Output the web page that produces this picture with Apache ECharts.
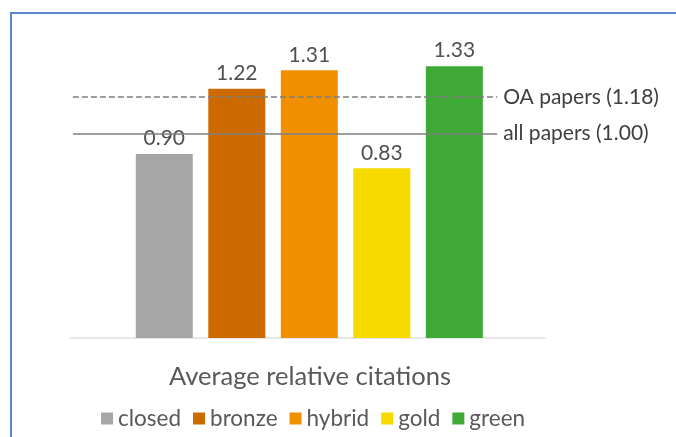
<!DOCTYPE html>
<html>
<head>
<meta charset="utf-8">
<script src="https://cdn.jsdelivr.net/npm/echarts@6/dist/echarts.min.js"></script>
<style>
html,body{margin:0;padding:0;background:#fff;}
#frame{position:absolute;left:10px;top:12px;width:680px;height:440px;border-left:2px solid #5a87cc;border-top:2px solid #5a87cc;box-sizing:border-box;}
#chart{position:absolute;left:0;top:0;width:676px;height:437px;}
</style>
</head>
<body>
<div id="frame"></div>
<div id="chart"></div>
<script>
const categories = ['closed', 'bronze', 'hybrid', 'gold', 'green'];
const values = [0.90, 1.22, 1.31, 0.83, 1.33];
const colors = ['#a6a6a6', '#cc6a00', '#f08f00', '#f7da00', '#3eaa35'];
const refLines = [
  { name: 'OA papers (1.18)', value: 1.18, type: 'dashed' },
  { name: 'all papers (1.00)', value: 1.00, type: 'solid' }
];
const title = 'Average relative citations';

const FONT = 'Lato';
const series = categories.map((c, i) => ({
  name: c,
  type: 'bar',
  barWidth: 57,
  barGap: '-100%',
  z: 3,
  itemStyle: { color: colors[i] },
  label: {
    show: true,
    position: 'top',
    distance: 5,
    color: '#505050',
    fontFamily: FONT,
    fontSize: 21,
    backgroundColor: '#fff',
    padding: [0, 4],
    formatter: p => p.value[1].toFixed(2)
  },
  data: [[i, values[i]]]
}));

series.push({
  type: 'line',
  data: [],
  z: 1,
  silent: true,
  markLine: {
    symbol: 'none',
    silent: true,
    animation: false,
    data: refLines.map(r => [
      { coord: [-1.26, r.value], lineStyle: { type: r.type, color: '#7f7f7f', width: 1.5 },
        label: { formatter: r.name } },
      { coord: [4.59, r.value] }
    ]),
    label: {
      show: true,
      position: 'end',
      distance: 6,
      color: '#404040',
      fontFamily: FONT,
      fontSize: 21
    }
  }
});

const chart = echarts.init(document.getElementById('chart'), null, { renderer: 'canvas' });
chart.setOption({
  animation: false,
  backgroundColor: 'transparent',
  title: {
    text: title,
    left: 305,
    top: 359,
    textAlign: 'center',
    textStyle: { color: '#595959', fontFamily: FONT, fontSize: 25.5, fontWeight: 'normal' }
  },
  legend: {
    data: categories,
    left: 96,
    top: 402,
    icon: 'rect',
    itemWidth: 12,
    itemHeight: 12,
    itemGap: 12,
    textStyle: { color: '#595959', fontFamily: FONT, fontSize: 22.5, padding: [0, 0, 0, 0] }
  },
  grid: { left: 70, right: 131, top: 31.4, bottom: 99, containLabel: false },
  xAxis: {
    type: 'value',
    min: -1.3,
    max: 5.25,
    axisLine: { show: true, onZero: true, lineStyle: { color: '#e0e0e0', width: 1.5 } },
    axisTick: { show: false },
    axisLabel: { show: false },
    splitLine: { show: false }
  },
  yAxis: {
    type: 'value',
    min: 0,
    max: 1.5,
    show: false
  },
  series: series
});
</script>
</body>
</html>
